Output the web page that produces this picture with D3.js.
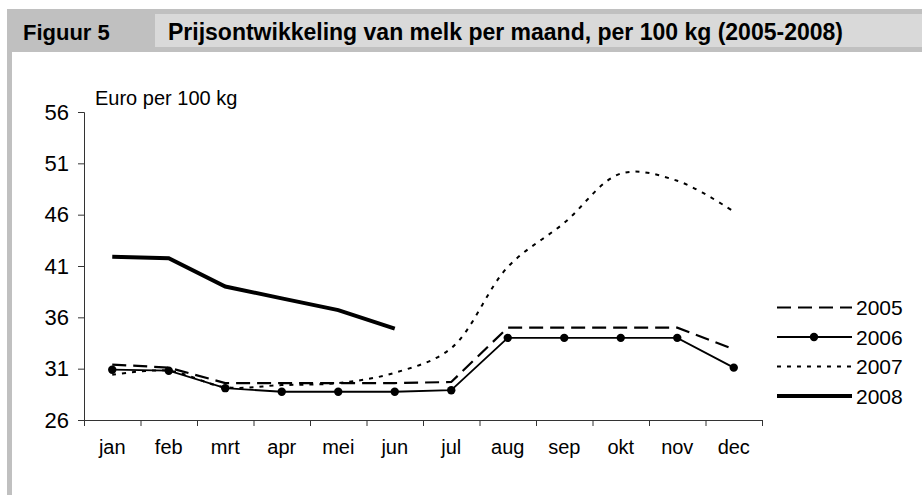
<!DOCTYPE html>
<html lang="nl">
<head>
<meta charset="UTF-8">
<title>Figuur 5</title>
<script src="https://d3js.org/d3.v7.min.js"></script>
<style>
  body { margin: 0; background: #fff; }
  svg text { font-family: "Liberation Sans", Arial, sans-serif; fill: #000; }
</style>
</head>
<body>
<div id="chart"></div>
<script>
// data
var months = ["jan", "feb", "mrt", "apr", "mei", "jun", "jul", "aug", "sep", "okt", "nov", "dec"];
var years = ["2005", "2006", "2007", "2008"];
var v2005 = [31.4, 31.1, 29.6, 29.6, 29.6, 29.6, 29.7, 35.0, 35.0, 35.0, 35.0, 32.9];
var v2006 = [30.9, 30.8, 29.1, 28.75, 28.75, 28.75, 28.9, 34.0, 34.0, 34.0, 34.0, 31.1];
var v2007 = [30.4, 30.8, 29.2, 29.4, 29.6, 30.6, 33.0, 40.9, 45.2, 50.0, 49.3, 46.3];
var v2008 = [41.9, 41.75, 39.0, 37.85, 36.7, 34.9];
var yTicks = [26, 31, 36, 41, 46, 51, 56];

var W = 922, H = 495;
var svg = d3.select("#chart").append("svg").attr("width", W).attr("height", H);

// header
svg.append("rect").attr("x", 7).attr("y", 9).attr("width", W - 7).attr("height", 43).attr("fill", "#c0c0c0");
svg.append("rect").attr("x", 155).attr("y", 14).attr("width", W - 155).attr("height", 33).attr("fill", "#d9d9d9");
svg.append("rect").attr("x", 7).attr("y", 52).attr("width", 5).attr("height", H - 52).attr("fill", "#c0c0c0");
svg.append("text").attr("x", 23).attr("y", 40).style("font-size", "22px").style("font-weight", "bold").text("Figuur 5");
svg.append("text").attr("x", 168).attr("y", 40).style("font-size", "23px").style("font-weight", "bold")
  .text("Prijsontwikkeling van melk per maand, per 100 kg (2005-2008)");

var pl = 84, pr = 762, pt = 112, pb = 420;

var x = d3.scaleBand().domain(months).range([pl, pr]);
var xt = d3.scaleLinear().domain([0, 12]).range([pl, pr]);
var y = d3.scaleLinear().domain([26, 56]).range([pb, pt]);

// y axis
var ya = svg.append("g").attr("transform", "translate(" + pl + ",0)")
  .call(d3.axisLeft(y).tickValues(yTicks).tickSize(6).tickPadding(9));
ya.selectAll("text").style("font-size", "22px");

// x axis: ticks at band edges, labels at centres
svg.append("g").attr("transform", "translate(0," + pb + ")")
  .call(d3.axisBottom(xt).tickValues(d3.range(13)).tickSize(6).tickFormat(""));
var xl = svg.append("g").attr("transform", "translate(0," + pb + ")")
  .call(d3.axisBottom(x).tickSize(0).tickPadding(20));
xl.select(".domain").remove();
xl.selectAll("text").style("font-size", "20px");

svg.selectAll(".domain, .tick line").attr("stroke", "#333");

svg.append("text").attr("x", 95).attr("y", 105).style("font-size", "20px").text("Euro per 100 kg");

var cx = function (d, i) { return x(months[i]) + x.bandwidth() / 2; };
var cy = function (d) { return y(d); };

var styles = {
  "2005": { w: 2.2, dash: "14,7" },
  "2006": { w: 1.8, dash: null },
  "2007": { w: 2, dash: "4,6" },
  "2008": { w: 4, dash: null }
};
var series = { "2005": v2005, "2006": v2006, "2007": v2007, "2008": v2008 };

years.forEach(function (yr) {
  var s = styles[yr];
  var gen = d3.line().x(cx).y(cy);
  if (yr === "2007") gen.curve(d3.curveCatmullRom.alpha(0.5));
  svg.append("path").datum(series[yr])
    .attr("d", gen)
    .attr("fill", "none")
    .attr("stroke", "#000")
    .attr("stroke-width", s.w)
    .attr("stroke-dasharray", s.dash);
});

svg.selectAll(".dot").data(v2006).enter().append("circle")
  .attr("cx", cx).attr("cy", cy)
  .attr("r", 4.2).attr("fill", "#000");

// legend
var lg = svg.append("g");
years.forEach(function (yr, i) {
  var s = styles[yr];
  var ly = 307.5 + i * 29.5;
  lg.append("line").attr("x1", 777).attr("x2", 852).attr("y1", ly).attr("y2", ly)
    .attr("stroke", "#000").attr("stroke-width", s.w).attr("stroke-dasharray", s.dash);
  if (yr === "2006") lg.append("circle").attr("cx", 814).attr("cy", ly).attr("r", 4.2).attr("fill", "#000");
  lg.append("text").attr("x", 856).attr("y", ly + 7.5).style("font-size", "21px").text(yr);
});
</script>
</body>
</html>
